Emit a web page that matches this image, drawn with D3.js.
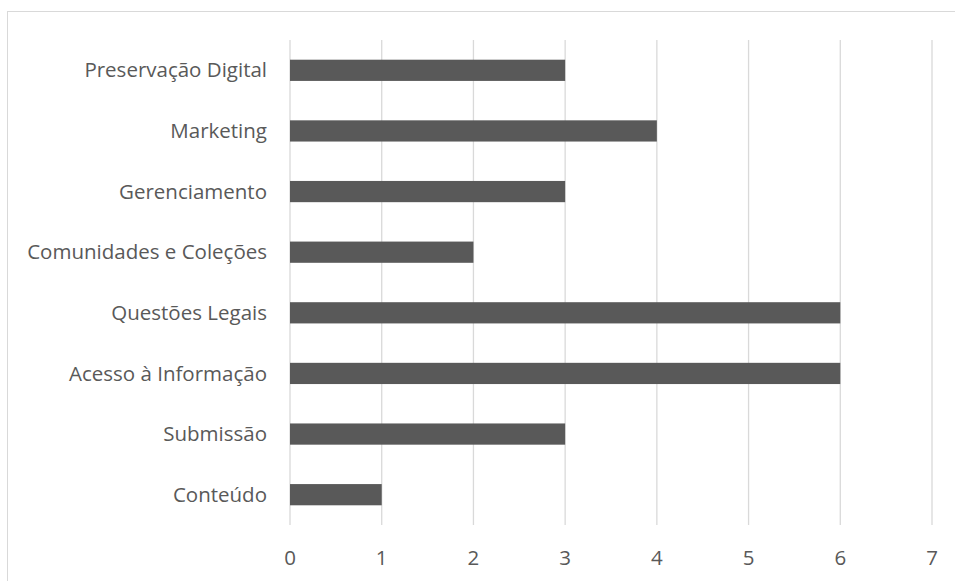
<!DOCTYPE html>
<html>
<head>
<meta charset="utf-8">
<script src="https://cdn.jsdelivr.net/npm/d3@7"></script>
<style>
	body { margin: 0; background: #fff; }
	text { font-family: "Open Sans", sans-serif; fill: #595959; }
</style>
</head>
<body>
<div id="chart"></div>
<script>
// categories top to bottom
var categories = ['Preservação Digital', 'Marketing', 'Gerenciamento', 'Comunidades e Coleções',
	'Questões Legais', 'Acesso à Informação', 'Submissão', 'Conteúdo'];
var values = [3, 4, 3, 2, 6, 6, 3, 1];
var ticks = [0, 1, 2, 3, 4, 5, 6, 7];

var width = 955;
var height = 581;

var svg = d3.select('#chart').append('svg')
	.attr('width', width)
	.attr('height', height);

// chart frame (cut off on right and bottom)
svg.append('rect')
	.attr('x', 7.5)
	.attr('y', 11.5)
	.attr('width', 1000)
	.attr('height', 1000)
	.attr('fill', 'none')
	.attr('stroke', '#d9d9d9');

var xScale = d3.scaleLinear()
	.domain([0, 7])
	.range([290, 932]);

var yScale = d3.scaleBand()
	.domain(categories)
	.range([40, 525])
	.paddingInner(0.65)
	.paddingOuter(0.325);

// gridlines
svg.append('g').selectAll('line').data(ticks).enter().append('line')
	.attr('x1', function (d) { return xScale(d); })
	.attr('x2', function (d) { return xScale(d); })
	.attr('y1', 40)
	.attr('y2', 525)
	.attr('stroke', '#d9d9d9')
	.attr('stroke-width', 1.3);

// bars
svg.append('g').selectAll('rect').data(categories).enter().append('rect')
	.attr('x', xScale(0))
	.attr('y', function (d) { return yScale(d); })
	.attr('width', function (d, i) { return xScale(values[i]) - xScale(0); })
	.attr('height', yScale.bandwidth())
	.attr('fill', '#595959');

// category labels
svg.append('g').selectAll('text').data(categories).enter().append('text')
	.attr('x', 267)
	.attr('y', function (d) { return yScale(d) + yScale.bandwidth() / 2; })
	.attr('dy', '0.35em')
	.attr('text-anchor', 'end')
	.style('font-size', '20.5px')
	.text(function (d) { return d; });

// tick labels
svg.append('g').selectAll('text').data(ticks).enter().append('text')
	.attr('x', function (d) { return xScale(d); })
	.attr('y', 565)
	.attr('text-anchor', 'middle')
	.style('font-size', '20.5px')
	.text(function (d) { return d; });
</script>
</body>
</html>
